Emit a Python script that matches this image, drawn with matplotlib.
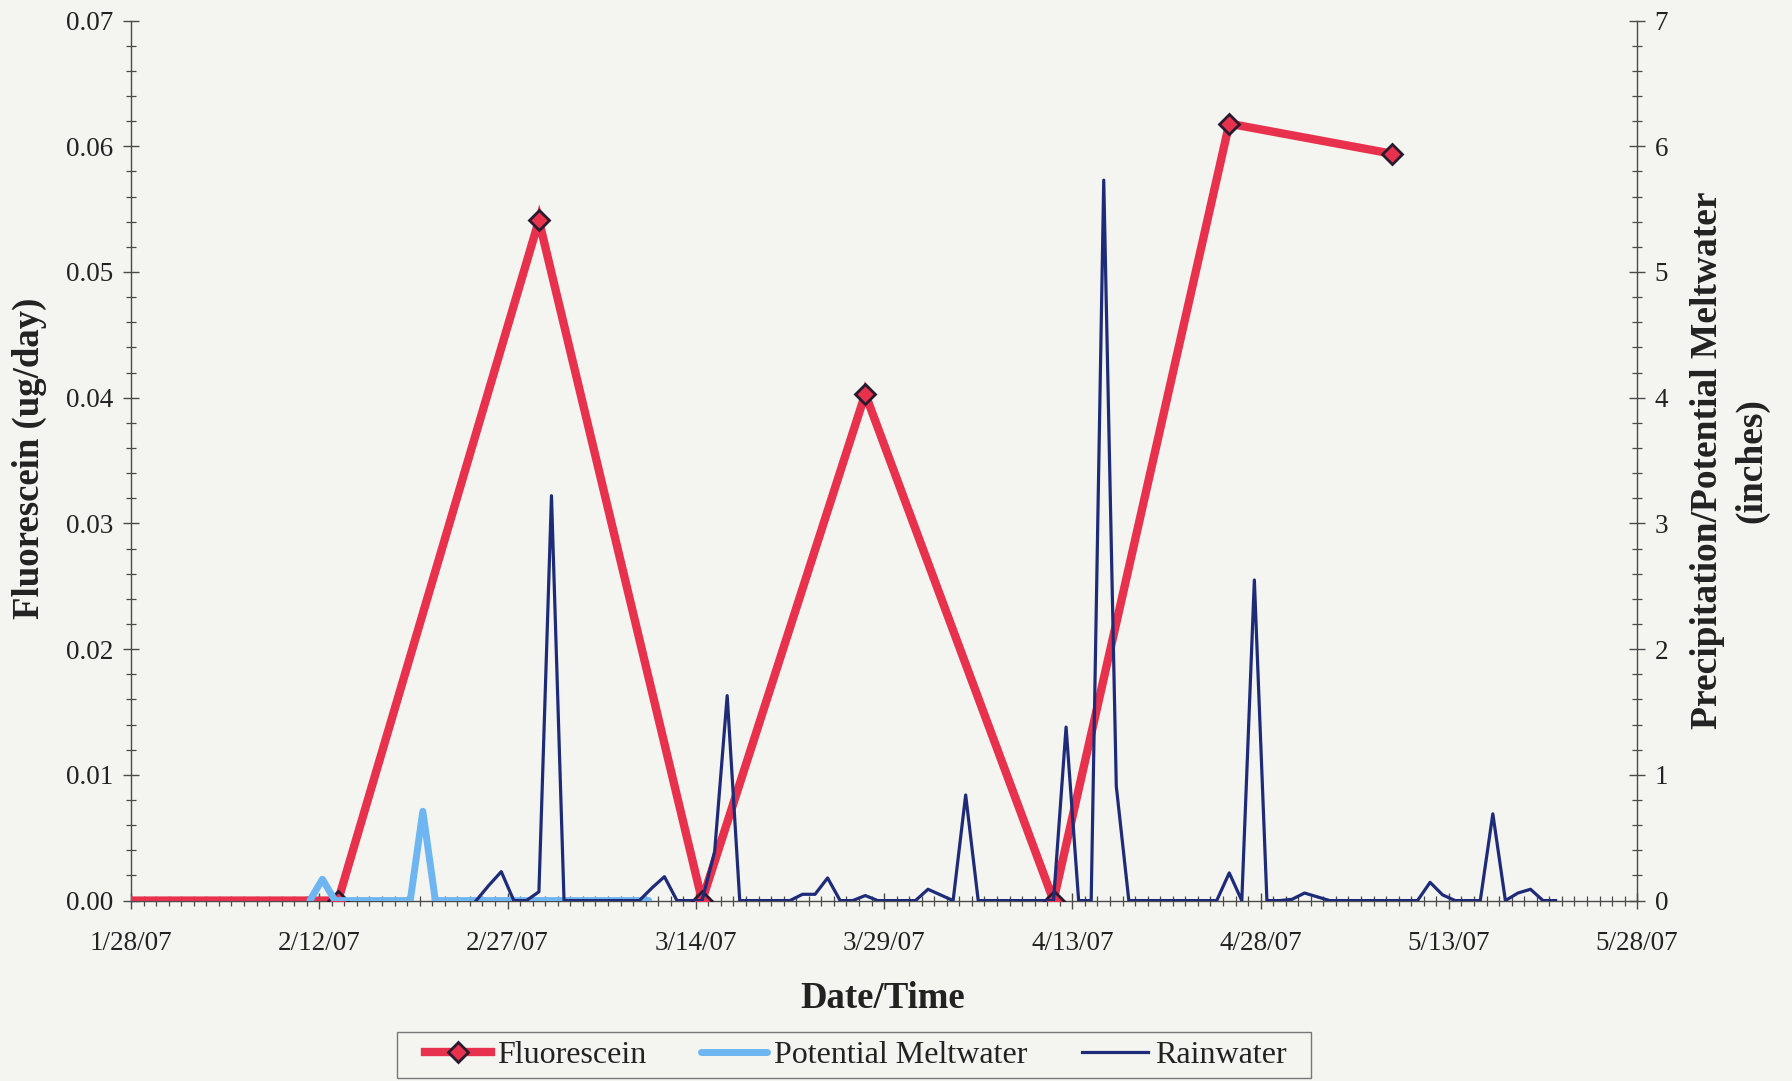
import matplotlib
matplotlib.use("Agg")
import pandas as pd
import matplotlib.pyplot as plt
import matplotlib.dates as mdates
from matplotlib.ticker import FuncFormatter, MultipleLocator
from matplotlib.lines import Line2D
from matplotlib.patches import Rectangle

# ---------------- data ----------------
fluor_dates = ["2007-01-28 00:00", "2007-02-13 12:00", "2007-03-01 12:00", "2007-03-14 12:00",
               "2007-03-27 12:00", "2007-04-11 12:00", "2007-04-25 12:00", "2007-05-08 12:00"]
fluor_vals = [0.0, 0.0, 0.0541, 0.0, 0.0403, 0.0, 0.0618, 0.0594]

melt_start = "2007-02-11 06:00"
melt_vals = [0, 0.17, 0, 0, 0, 0, 0, 0, 0, 0.71,
             0, 0, 0, 0, 0, 0, 0, 0, 0, 0, 0, 0, 0, 0, 0, 0, 0, 0]

rain_start = "2007-02-24 12:00"
rain_vals = [0, 0.12, 0.23, 0, 0, 0.07, 3.22,
             0, 0, 0, 0, 0, 0, 0,
             0.10, 0.19, 0, 0, 0, 0.39, 1.63,
             0, 0, 0, 0, 0, 0.05, 0.05,
             0.18, 0, 0, 0.04, 0, 0, 0,
             0, 0.09, 0.045, 0, 0.84, 0, 0,
             0, 0, 0, 0, 0, 1.38, 0,
             0, 5.73, 0.91, 0, 0, 0, 0,
             0, 0, 0, 0, 0.22, 0, 2.55,
             0, 0, 0.01, 0.06, 0.03, 0, 0,
             0, 0, 0, 0, 0, 0, 0.145,
             0.045, 0, 0, 0, 0.69, 0, 0.06,
             0.09, 0, 0]

x_start = "2007-01-28"
x_end = "2007-05-28"
legend_labels = ["Fluorescein", "Potential Meltwater", "Rainwater"]

# ---------------- style ----------------
plt.rcParams['font.family'] = ['Liberation Serif', 'DejaVu Serif']
BG = '#F4F4F0'
RED = '#E8314C'
LBLUE = '#6DB6F2'
NAVY = '#1E2B78'
AXC = '#4A4A4A'
TXT = '#222222'

fig = plt.figure(figsize=(17.92, 10.81), dpi=100, facecolor=BG)
ax = fig.add_axes([0.0731, 0.1669, 0.9136 - 0.0731, 0.981 - 0.1669])
ax.set_facecolor(BG)
ax2 = ax.twinx()

fd = pd.to_datetime(fluor_dates)
md = pd.date_range(melt_start, periods=len(melt_vals), freq='D')
rd = pd.date_range(rain_start, periods=len(rain_vals), freq='D')

ax.plot(fd, fluor_vals, color=RED, lw=6, marker='D', ms=10, mfc=RED, mec='#2A1A30',
        mew=2, markevery=list(range(1, len(fluor_vals))), solid_capstyle='butt',
        solid_joinstyle='miter', zorder=3)
ax2.plot(md, melt_vals, color=LBLUE, lw=5, solid_capstyle='round', zorder=2)
ax2.plot(rd, rain_vals, color=NAVY, lw=2.3, zorder=3)

ax.set_xlim(pd.Timestamp(x_start), pd.Timestamp(x_end))
ax.set_ylim(0, 0.07)
ax2.set_ylim(0, 7)

ticks = pd.date_range(x_start, x_end, freq='15D')
ax.set_xticks(ticks)
ax.xaxis.set_major_formatter(FuncFormatter(
    lambda v, p: (lambda d: f"{d.month}/{d.day}/{d:%y}")(mdates.num2date(v))))
ax.xaxis.set_minor_locator(mdates.DayLocator())

ax.yaxis.set_major_locator(MultipleLocator(0.01))
ax.yaxis.set_minor_locator(MultipleLocator(0.002))
ax.yaxis.set_major_formatter(FuncFormatter(lambda v, p: f"{v:.2f}"))
ax2.yaxis.set_major_locator(MultipleLocator(1))
ax2.yaxis.set_minor_locator(MultipleLocator(0.2))
ax2.yaxis.set_major_formatter(FuncFormatter(lambda v, p: f"{v:.0f}"))

for a in (ax, ax2):
    a.spines['top'].set_visible(False)
    for s in ('left', 'right', 'bottom'):
        a.spines[s].set_color(AXC)
        a.spines[s].set_linewidth(1.0)
    a.tick_params(which='major', direction='inout', length=11, width=1.0, color=AXC,
                  labelsize=19.5, labelcolor=TXT, pad=7)
    a.tick_params(which='minor', direction='inout', length=7, width=0.9, color=AXC)
ax.spines['right'].set_visible(False)
ax2.spines['left'].set_visible(False)
ax2.spines['bottom'].set_visible(False)
ax.tick_params(axis='x', which='major', pad=16.5)

ax.set_ylabel("Fluorescein (ug/day)", fontsize=26.5, fontweight='bold', color=TXT)
ax.yaxis.set_label_coords(-0.0557, 0.503)
ax2.set_ylabel("Precipitation/Potential Meltwater\n(inches)", fontsize=27, fontweight='bold',
               color=TXT, rotation=90, linespacing=1.35)
ax2.yaxis.set_label_coords(1.035, 0.5)
ax.set_xlabel("Date/Time", fontsize=26.5, fontweight='bold', color=TXT)
ax.xaxis.set_label_coords(0.499, -0.091)

# legend box
fig.patches.append(Rectangle((0.2215, 0.0028), 0.51, 0.0425, transform=fig.transFigure,
                             facecolor=BG, edgecolor='#777777', lw=1.0, zorder=1))
handles = [
    Line2D([], [], color=RED, lw=6, marker='D', ms=10, mfc=RED, mec='#2A1A30', mew=2),
    Line2D([], [], color=LBLUE, lw=5, solid_capstyle='round'),
    Line2D([], [], color=NAVY, lw=2.3),
]
leg = fig.legend(handles, legend_labels,
                 loc='center', bbox_to_anchor=(0.4774, 0.024), ncol=3, fontsize=23,
                 frameon=False, handlelength=2.07, columnspacing=1.72,
                 borderpad=0.25, handletextpad=0.2)
for t in leg.get_texts():
    t.set_color(TXT)

fig.savefig("out.png", dpi=100, facecolor=BG)
